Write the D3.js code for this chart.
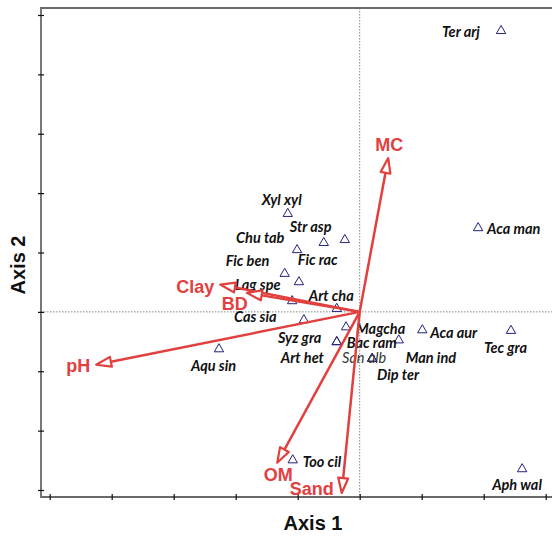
<!DOCTYPE html>
<html>
<head>
<meta charset="utf-8">
<title>Biplot</title>
<script src="https://d3js.org/d3.v7.min.js"></script>
<style>
  body { margin: 0; background: #fff; }
  .sp { font-family: Lato, "Open Sans", sans-serif; font-weight: bold; font-style: italic; font-size: 14.5px; fill: #111; }
  .sp.light { font-weight: normal; fill: #333; }
  .vlab { font-family: "Liberation Sans", Arial, sans-serif; font-weight: bold; font-size: 18px; fill: #e2403f; }
  .ttl { font-family: "Liberation Sans", Arial, sans-serif; font-weight: bold; font-size: 20px; fill: #111; }
</style>
</head>
<body>
<script>
// species scores (axis 1, axis 2)
var species = ["Ter arj","Aca man","Tec gra","Aph wal","Xyl xyl","Str asp","Fic rac","Chu tab","Fic ben",
               "Lag spe","Cas sia","Art cha","Syz gra","Magcha","Bac ram","Art het","San alb","Dip ter",
               "Man ind","Aca aur","Aqu sin","Too cil"];
var ax1 = [2.28, 1.91, 2.44, 2.62, -1.16, -0.58, -0.24, -1.01, -1.21,
           -0.98, -1.09, -0.37, -0.90, -0.22, -0.37, -0.37, 0.20, 0.20,
           0.63, 1.01, -2.27, -1.08];
var ax2 = [4.75, 1.43, -0.30, -2.63, 1.67, 1.18, 1.23, 1.06, 0.66,
           0.52, 0.20, 0.07, -0.12, -0.24, -0.49, -0.49, -0.77, -0.77,
           -0.46, -0.29, -0.61, -2.48];

// soil variable vectors
var vars = ["MC","Clay","BD","pH","OM","Sand"];
var v1 = [0.46, -2.25, -1.82, -4.25, -1.33, -0.29];
var v2 = [2.59, 0.46, 0.32, -0.89, -2.54, -3.05];

var xTicks = [-5,-4,-3,-2,-1,0,1,2,3];
var yTicks = [-3,-2,-1,0,1,2,3,4,5];

// label placement (pixels from the point)
var spOff = {
  "Ter arj":[-59,2], "Aca man":[9,2], "Tec gra":[-27,18], "Aph wal":[-30,17],
  "Xyl xyl":[-26,-13], "Str asp":[-34,-15], "Fic rac":[-47,21], "Chu tab":[-61,-11],
  "Fic ben":[-59,-12], "Lag spe":[-64,4], "Cas sia":[-58,17], "Art cha":[-28,-12],
  "Syz gra":[-26,19], "Magcha":[10,3], "Bac ram":[10,2], "Art het":[-56,17],
  "San alb":[-30,0], "Dip ter":[5,17], "Man ind":[7,19], "Aca aur":[8,4],
  "Aqu sin":[-28,18], "Too cil":[10,3]
};
var vOff = { "MC":[1,-13], "Clay":[-25,2], "BD":[-12,11], "pH":[-18,1], "OM":[1,12], "Sand":[-30,-4] };

var W = 552, H = 537;
var svg = d3.select("body").append("svg").attr("width", W).attr("height", H);

var x = d3.scaleLinear().domain([-5, 3]).range([49.7, 545.7]);
var y = d3.scaleLinear().domain([-3, 5]).range([490, 15]);

var fLeft = 41, fTop = 8, fBottom = 497;

// zero lines
svg.append("line").attr("x1", x(0)).attr("x2", x(0)).attr("y1", fTop).attr("y2", fBottom)
  .attr("stroke", "#666").attr("stroke-width", 0.8).attr("stroke-dasharray", "1.5,1.5");
svg.append("line").attr("x1", fLeft).attr("x2", W).attr("y1", y(0)).attr("y2", y(0))
  .attr("stroke", "#666").attr("stroke-width", 0.8).attr("stroke-dasharray", "1.5,1.5");

// frame
svg.append("path").attr("d", "M" + W + "," + fTop + "H" + fLeft + "V" + fBottom + "H" + W)
  .attr("fill", "none").attr("stroke", "#6a6a6a").attr("stroke-width", 1.8);

var gx = svg.append("g").attr("transform", "translate(0," + fBottom + ")")
  .call(d3.axisBottom(x).tickValues(xTicks).tickFormat("").tickSizeOuter(0));
gx.select(".domain").remove();
gx.selectAll(".tick line").attr("y1", -3).attr("y2", 3).attr("stroke", "#111").attr("stroke-width", 1.2);

var gy = svg.append("g").attr("transform", "translate(" + fLeft + ",0)")
  .call(d3.axisLeft(y).tickValues(yTicks).tickFormat("").tickSizeOuter(0));
gy.select(".domain").remove();
gy.selectAll(".tick line").attr("x1", -3).attr("x2", 3).attr("stroke", "#111").attr("stroke-width", 1.2);

// species triangles
var pts = species.map(function(s, i){ return {name: s, a: ax1[i], b: ax2[i]}; });
svg.selectAll("path.pt").data(pts).enter().append("path")
  .attr("class", "pt")
  .attr("d", d3.symbol().type(d3.symbolTriangle).size(38))
  .attr("transform", function(d){ return "translate(" + x(d.a) + "," + (y(d.b) + 1) + ")"; })
  .attr("fill", "none").attr("stroke", "#23237e").attr("stroke-width", 1);

svg.selectAll("text.sp").data(pts).enter().append("text")
  .attr("class", function(d){ return d.name == "San alb" ? "sp light" : "sp"; })
  .attr("x", function(d){ return x(d.a) + spOff[d.name][0]; })
  .attr("y", function(d){ return y(d.b) + spOff[d.name][1]; })
  .attr("dy", "0.35em")
  .text(function(d){ return d.name; });

// vectors
var red = "#e2403f";
var ox = x(0), oy = y(0);
var vec = vars.map(function(v, i){ return {name: v, a: v1[i], b: v2[i]}; });
vec.forEach(function(d){
  var tx = x(d.a), ty = y(d.b);
  var dx = tx - ox, dy = ty - oy, len = Math.sqrt(dx*dx + dy*dy);
  var ux = dx/len, uy = dy/len;
  var hl = 15, hw = 5;
  var bx = tx - ux*hl, by = ty - uy*hl;
  svg.append("line").attr("x1", ox).attr("y1", oy).attr("x2", bx).attr("y2", by)
    .attr("stroke", red).attr("stroke-width", 2.5);
  svg.append("path")
    .attr("d", "M" + tx + "," + ty + "L" + (bx - uy*hw) + "," + (by + ux*hw) +
               "L" + (bx + uy*hw) + "," + (by - ux*hw) + "Z")
    .attr("fill", "#fff").attr("stroke", red).attr("stroke-width", 2.2).attr("stroke-linejoin", "round");
  svg.append("text").attr("class", "vlab")
    .attr("x", tx + vOff[d.name][0]).attr("y", ty + vOff[d.name][1])
    .attr("dy", "0.35em").attr("text-anchor", "middle")
    .text(d.name);
});

// axis titles
svg.append("text").attr("class", "ttl").attr("x", 313).attr("y", 530).attr("text-anchor", "middle").text("Axis 1");
svg.append("text").attr("class", "ttl").attr("transform", "translate(25,265) rotate(-90)")
  .attr("text-anchor", "middle").text("Axis 2");
</script>
</body>
</html>
